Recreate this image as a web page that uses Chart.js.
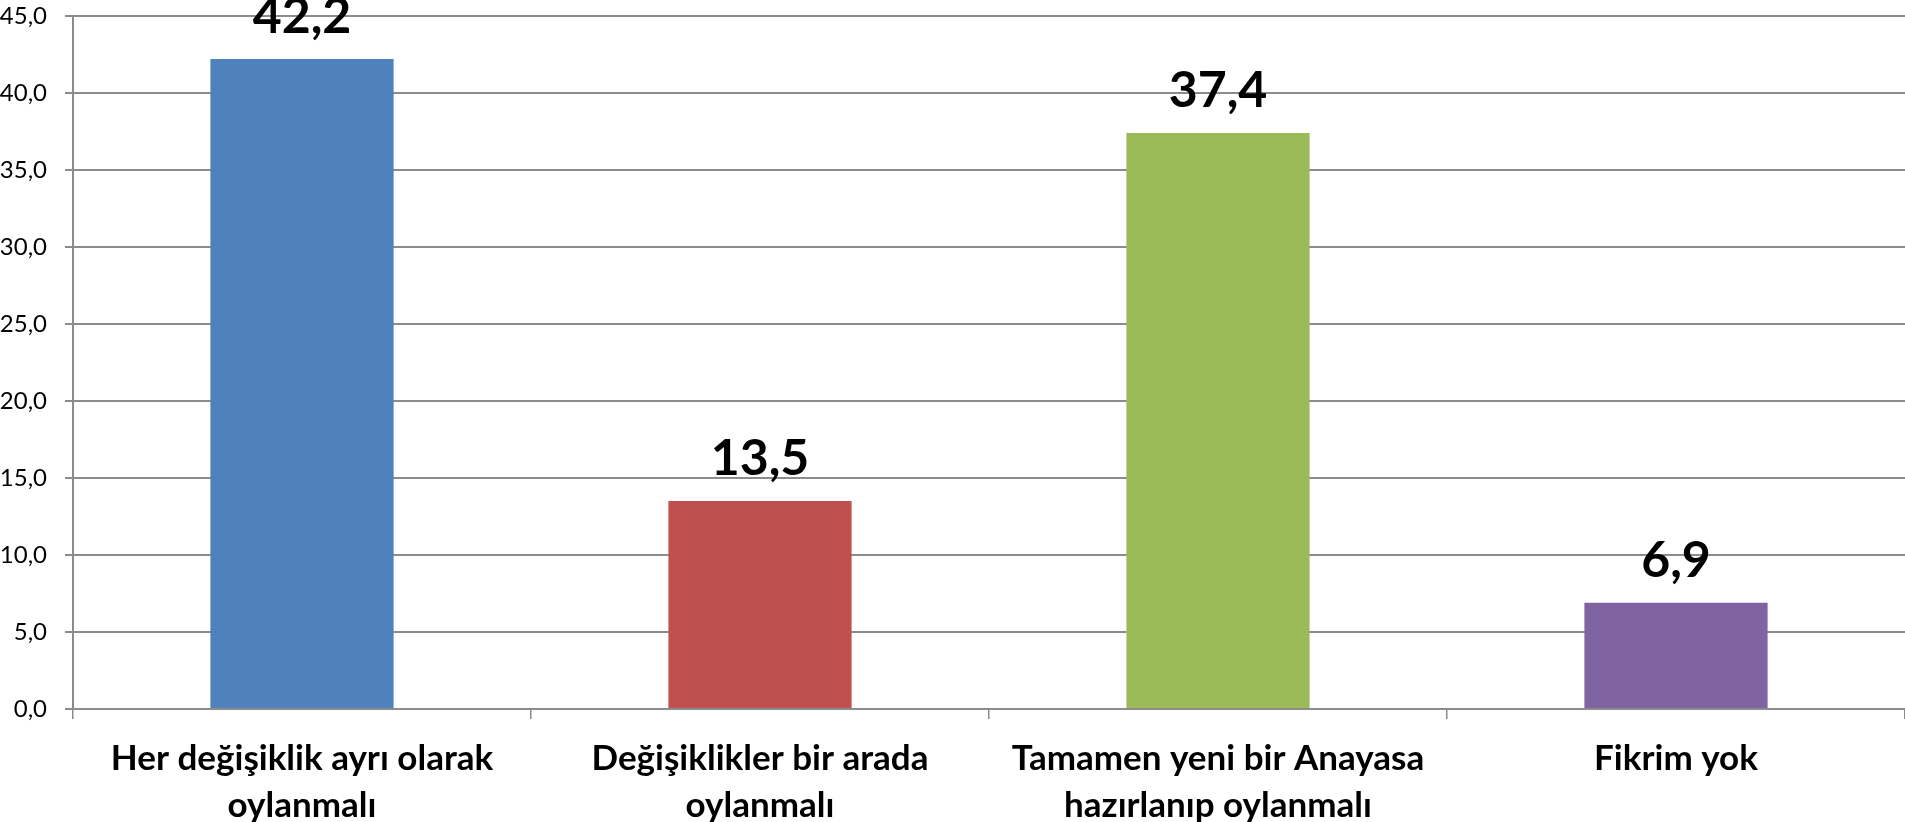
<!DOCTYPE html>
<html>
<head>
<meta charset="utf-8">
<script src="https://cdn.jsdelivr.net/npm/chart.js@4"></script>
<style>
  html, body { margin: 0; padding: 0; background: #fff; }
  #wrap { width: 1905px; height: 822px; }
</style>
</head>
<body>
<div id="wrap"><canvas id="barChart" width="1905" height="822"></canvas></div>
<script>
var categories = [
  ["Her değişiklik ayrı olarak", "oylanmalı"],
  ["Değişiklikler bir arada", "oylanmalı"],
  ["Tamamen yeni bir Anayasa", "hazırlanıp oylanmalı"],
  "Fikrim yok"
];
var values = [42.2, 13.5, 37.4, 6.9];
var barColors = ["#4f81bd", "#c0504d", "#9bbb59", "#8064a2"];
var yTicks = [0, 5, 10, 15, 20, 25, 30, 35, 40, 45];

function trNum(v) {
  return v.toFixed(1).replace('.', ',');
}

// big bold value above each bar
var valueLabels = {
  id: 'valueLabels',
  afterDatasetsDraw: function(chart) {
    var ctx = chart.ctx;
    var meta = chart.getDatasetMeta(0);
    ctx.save();
    ctx.font = 'bold 50px Lato';
    ctx.fillStyle = '#000';
    ctx.textAlign = 'center';
    ctx.textBaseline = 'alphabetic';
    meta.data.forEach(function(bar, i) {
      ctx.fillText(trNum(values[i]), bar.x, bar.y - 26);
    });
    ctx.restore();
  }
};

var ctxB = document.getElementById("barChart").getContext('2d');
var myBarChart = new Chart(ctxB, {
  type: 'bar',
  data: {
    labels: categories,
    datasets: [{
      data: values,
      backgroundColor: barColors,
      borderWidth: 0,
      categoryPercentage: 1,
      barPercentage: 0.4
    }]
  },
  options: {
    responsive: false,
    animation: false,
    devicePixelRatio: 1,
    layout: { padding: { top: 16, right: 0, left: 0, bottom: 0 } },
    plugins: {
      legend: { display: false },
      tooltip: { enabled: false }
    },
    scales: {
      x: {
        grid: { drawOnChartArea: false, drawTicks: true, tickLength: 10, color: '#8c8c8c', lineWidth: 1.5 },
        border: { color: '#8c8c8c', width: 2 },
        ticks: {
          color: '#000',
          font: { family: 'Lato', weight: 'bold', size: 35, lineHeight: '47px' },
          padding: 16,
          maxRotation: 0,
          autoSkip: false
        },
        afterFit: function(scale) {
          scale.height = 113;
          scale.paddingLeft = 0;
          scale.paddingRight = 0;
        }
      },
      y: {
        min: 0,
        max: 45,
        afterBuildTicks: function(scale) {
          scale.ticks = yTicks.map(function(v) { return { value: v }; });
        },
        grid: { color: '#8c8c8c', lineWidth: 2, tickLength: 8 },
        border: { color: '#8c8c8c', width: 2 },
        ticks: {
          color: '#000',
          font: { family: 'Lato', size: 24 },
          padding: 18,
          callback: function(v) { return trNum(v); }
        },
        afterFit: function(scale) {
          scale.width = 73;
          scale.paddingTop = 0;
          scale.paddingBottom = 0;
        }
      }
    }
  },
  plugins: [valueLabels]
});
</script>
</body>
</html>
